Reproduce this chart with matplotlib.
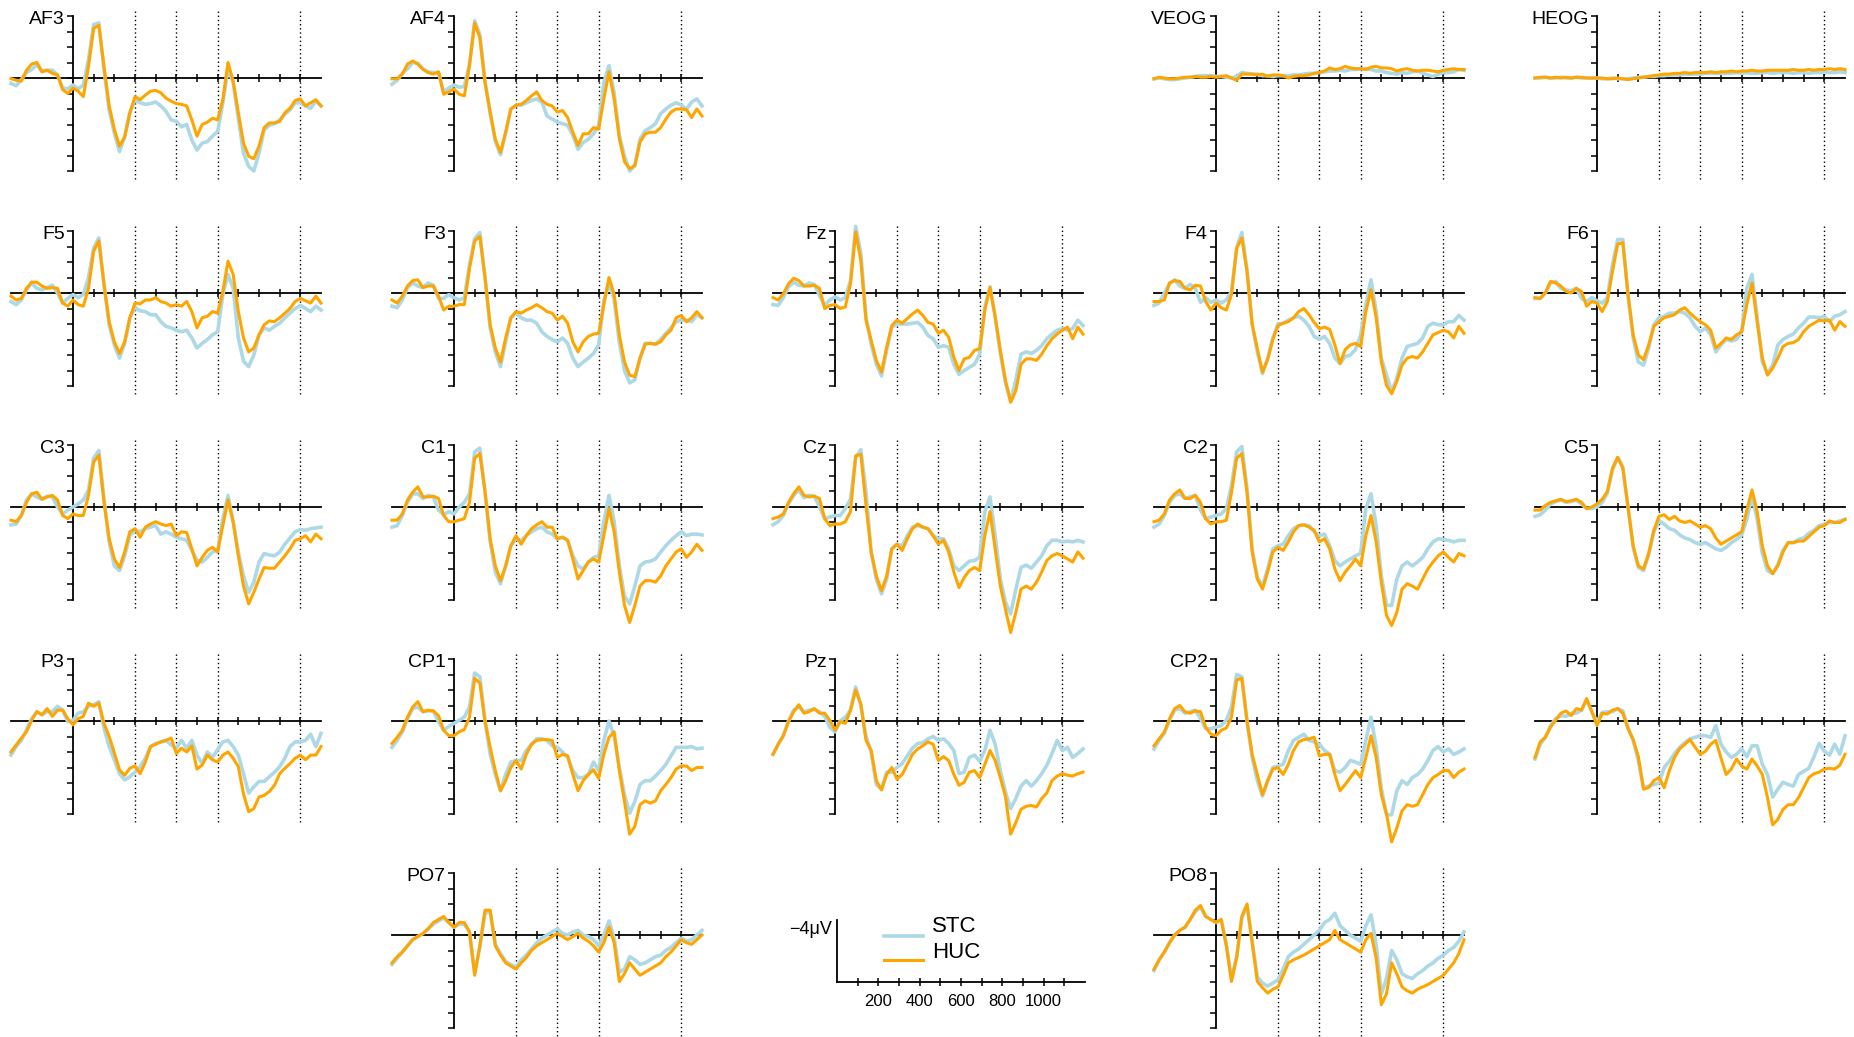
import numpy as np
import matplotlib
matplotlib.use("Agg")
import matplotlib.pyplot as plt
from matplotlib.lines import Line2D

plt.rcParams['font.family'] = ['Liberation Sans', 'DejaVu Sans']

# time axis in ms, one sample every 25 ms
times = np.arange(-300, 1201, 25)

# values in microvolts (negative plotted up)
af3_stc = [0.35, 0.5, 0.1, -0.35, -0.55, -0.85, -0.45, -0.5, -0.5, -0.2, 0.65, 0.7,
           0.45, 0.7, 0.45, -1.2, -3.45, -3.55, -0.55, 2.05, 3.55, 4.75, 3.8, 2.25,
           1.4, 1.6, 1.7, 1.65, 1.55, 1.8, 2.15, 2.7, 2.8, 3.15, 3.0, 4.0,
           4.65, 4.2, 4.1, 3.75, 3.45, 1.6, -0.6, 0.3, 2.6, 4.85, 5.7, 6.0,
           4.85, 3.35, 3.05, 2.95, 2.7, 2.35, 2.05, 1.6, 1.6, 1.8, 1.95, 1.5, 1.8]
af3_huc = [0.04, 0.15, 0.2, -0.5, -0.9, -1.0, -0.4, -0.5, -0.3, -0.2, 0.75, 1.0,
           0.65, 0.85, 1.2, -0.75, -3.2, -3.4, -0.75, 1.8, 3.3, 4.4, 3.8, 2.25,
           1.2, 1.4, 1.1, 0.85, 0.8, 0.95, 1.3, 1.5, 1.65, 1.7, 1.8, 2.7,
           3.75, 3.0, 2.85, 2.6, 2.7, 1.4, -1.0, 0.2, 2.25, 4.2, 5.05, 5.2,
           4.4, 3.2, 2.9, 2.9, 2.8, 2.25, 1.95, 1.45, 1.35, 1.8, 1.6, 1.4, 1.8]

af4_stc = [0.4, 0.15, -0.3, -0.6, -1.0, -0.95, -0.6, -0.4, -0.35, -0.35, 0.9, 0.65,
           0.45, 0.6, 0.55, -0.9, -3.7, -2.8, 0.2, 2.3, 4.1, 4.95, 3.55, 2.0,
           1.75, 1.75, 1.6, 1.45, 1.35, 1.55, 2.45, 2.65, 2.85, 2.95, 3.05, 3.7,
           4.6, 4.15, 3.95, 3.6, 3.05, 0.3, -0.8, 1.0, 3.7, 5.05, 6.0, 5.65,
           3.95, 3.4, 3.2, 2.95, 2.3, 2.0, 1.75, 1.6, 1.75, 2.0, 1.55, 1.35, 1.8]
af4_huc = [0.05, 0.05, -0.25, -0.9, -1.1, -0.9, -0.55, -0.35, -0.25, -0.4, 1.05, 0.9,
           0.7, 1.05, 1.15, -0.8, -3.55, -2.6, 0.3, 2.2, 3.95, 4.8, 3.5, 2.0,
           1.75, 1.7, 1.45, 1.15, 0.9, 1.45, 1.7, 1.8, 2.2, 2.1, 2.55, 3.5,
           4.35, 3.6, 3.6, 3.2, 3.3, 1.35, -0.4, 1.35, 3.9, 5.4, 5.85, 5.65,
           4.15, 3.6, 3.5, 3.5, 3.2, 2.65, 2.2, 2.0, 2.0, 2.05, 2.55, 2.0, 2.45]

veog_stc = [0.05, 0.0, 0.05, 0.1, 0.1, 0.05, 0.0, -0.05, -0.1, -0.15, -0.15, -0.15,
            -0.1, -0.1, -0.05, 0.0, -0.1, -0.35, -0.3, -0.25, -0.25, -0.15, -0.15, -0.1,
            -0.15, -0.15, -0.15, -0.2, -0.2, -0.25, -0.3, -0.3, -0.35, -0.4, -0.45, -0.45,
            -0.5, -0.45, -0.55, -0.55, -0.6, -0.6, -0.55, -0.45, -0.45, -0.35, -0.3, -0.25,
            -0.35, -0.3, -0.4, -0.45, -0.3, -0.2, -0.1, -0.25, -0.35, -0.35, -0.4, -0.55, -0.5]
veog_huc = [0.05, -0.05, 0.0, 0.05, 0.05, 0.0, -0.05, -0.05, -0.1, -0.05, -0.05, -0.1,
            -0.05, -0.1, -0.15, 0.0, 0.15, -0.25, -0.25, -0.25, -0.2, -0.25, -0.1, -0.2,
            -0.2, -0.15, 0.0, -0.1, -0.15, -0.15, -0.2, -0.3, -0.35, -0.45, -0.65, -0.55,
            -0.6, -0.75, -0.65, -0.6, -0.6, -0.55, -0.7, -0.75, -0.65, -0.65, -0.6, -0.45,
            -0.55, -0.6, -0.5, -0.45, -0.5, -0.5, -0.45, -0.4, -0.5, -0.55, -0.6, -0.55, -0.55]

heog_stc = [0.0, 0.0, -0.05, 0.0, 0.0, -0.05, 0.0, 0.0, -0.05, 0.0, 0.0, 0.0,
            0.0, 0.05, 0.05, 0.0, 0.05, 0.05, 0.05, 0.0, -0.05, -0.05, -0.1, -0.1,
            -0.15, -0.15, -0.2, -0.2, -0.2, -0.25, -0.25, -0.25, -0.25, -0.3, -0.3, -0.3,
            -0.3, -0.3, -0.3, -0.35, -0.3, -0.35, -0.3, -0.3, -0.35, -0.35, -0.3, -0.35,
            -0.35, -0.35, -0.3, -0.35, -0.35, -0.3, -0.35, -0.35, -0.4, -0.35, -0.35, -0.4, -0.35]
heog_huc = [0.0, -0.05, -0.05, 0.0, -0.05, 0.0, -0.05, 0.0, -0.05, -0.05, 0.0, 0.0,
            0.0, 0.0, 0.05, 0.05, 0.0, 0.05, 0.1, 0.05, 0.0, -0.05, -0.1, -0.15,
            -0.2, -0.25, -0.25, -0.3, -0.3, -0.35, -0.3, -0.35, -0.35, -0.35, -0.4, -0.35,
            -0.4, -0.4, -0.45, -0.4, -0.45, -0.45, -0.5, -0.45, -0.45, -0.5, -0.5, -0.5,
            -0.5, -0.5, -0.55, -0.5, -0.5, -0.55, -0.5, -0.55, -0.55, -0.6, -0.55, -0.6, -0.55]

f5_stc = [0.55, 0.75, 0.45, -0.2, -0.65, -0.3, -0.2, -0.35, -0.5, 0.0, 0.65, 0.35,
          0.1, 0.3, 0.1, -1.0, -2.9, -3.55, -0.55, 2.05, 3.35, 4.2, 3.25, 1.6,
          0.95, 1.15, 1.2, 1.4, 1.4, 1.85, 2.15, 2.25, 2.4, 2.5, 2.4, 2.9,
          3.55, 3.25, 3.0, 2.7, 2.5, 0.1, -1.2, -0.3, 2.9, 4.4, 4.75, 4.0,
          2.7, 2.25, 2.4, 2.15, 1.95, 1.6, 1.3, 1.0, 0.8, 1.0, 1.2, 0.85, 1.1]
f5_huc = [0.2, 0.45, 0.35, -0.3, -0.7, -0.7, -0.45, -0.3, -0.35, -0.3, 0.65, 0.85,
          0.45, 0.75, 0.85, -0.3, -2.7, -3.35, -0.55, 1.85, 3.15, 3.9, 3.15, 1.6,
          0.65, 0.7, 0.45, 0.45, 0.3, 0.55, 0.65, 0.85, 0.75, 0.85, 0.55, 1.2,
          2.25, 1.6, 1.5, 1.2, 1.3, -0.1, -2.05, -1.2, 1.2, 2.9, 3.8, 3.55,
          2.7, 2.05, 1.8, 1.85, 1.6, 1.3, 1.0, 0.55, 0.35, 0.5, 0.65, 0.2, 0.65]

f3_stc = [0.85, 0.95, 0.45, -0.35, -0.65, -0.45, -0.35, -0.65, -0.5, 0.35, 0.35, 0.1,
          0.3, 0.45, 0.3, -1.8, -3.5, -3.9, -1.0, 2.25, 3.8, 4.75, 3.15, 1.6,
          1.3, 1.6, 1.75, 1.75, 1.95, 2.5, 2.8, 3.0, 3.15, 2.9, 3.25, 4.2,
          4.75, 4.45, 4.2, 3.9, 3.35, 0.5, -0.6, 0.4, 3.2, 5.0, 5.8, 5.6,
          4.2, 3.25, 3.25, 3.3, 3.0, 2.6, 2.25, 1.85, 1.75, 1.75, 1.85, 1.4, 1.6]
f3_huc = [0.45, 0.65, 0.2, -0.45, -0.8, -0.85, -0.35, -0.45, -0.45, 0.2, 1.1, 0.85,
          0.85, 0.75, 0.75, -1.6, -3.35, -3.65, -1.0, 2.05, 3.55, 4.45, 2.9, 1.6,
          1.2, 1.3, 1.1, 0.95, 0.75, 0.95, 1.2, 1.3, 1.75, 1.5, 1.95, 3.15,
          3.8, 3.15, 2.8, 2.65, 2.6, 0.75, -1.0, 0.1, 2.7, 4.45, 5.3, 5.4,
          4.2, 3.3, 3.25, 3.3, 3.15, 2.7, 2.4, 1.6, 1.45, 1.85, 1.6, 1.2, 1.6]

fz_stc = [0.75, 0.8, 0.3, -0.4, -0.7, -0.5, -0.45, -0.65, -0.55, 0.15, 0.8, 0.45,
          0.25, 0.45, 0.3, -0.8, -4.3, -2.55, 1.55, 3.3, 4.6, 5.35, 3.7, 2.2,
          2.0, 2.0, 2.0, 1.95, 1.9, 2.2, 2.75, 2.95, 3.5, 3.4, 3.5, 4.6,
          5.25, 5.0, 4.8, 4.6, 3.95, 0.9, -0.4, 1.5, 3.9, 5.8, 6.95, 5.6,
          3.95, 3.8, 3.9, 3.7, 3.4, 2.95, 2.65, 2.4, 2.3, 2.4, 2.3, 1.75, 2.1]
fz_huc = [0.3, 0.45, 0.05, -0.6, -0.95, -0.8, -0.45, -0.45, -0.5, -0.3, 1.0, 0.8,
          0.75, 1.0, 0.9, -0.6, -3.95, -2.1, 1.75, 3.05, 4.35, 5.1, 3.5, 2.1,
          1.75, 1.95, 1.65, 1.35, 1.1, 1.45, 1.9, 2.0, 2.6, 2.4, 2.85, 4.15,
          5.0, 4.25, 4.15, 3.7, 3.6, 1.1, -0.35, 1.55, 3.7, 5.65, 7.05, 6.3,
          4.6, 4.25, 4.25, 4.35, 3.95, 3.4, 2.95, 2.65, 2.4, 2.2, 2.95, 2.2, 2.65]

f4_stc = [0.8, 0.65, 0.0, -0.6, -0.85, -0.45, -0.3, -0.55, -0.3, 0.6, 0.3, 0.6,
          0.45, 0.65, 0.45, -0.1, -2.9, -3.9, -1.5, 2.05, 3.8, 5.2, 4.2, 2.9,
          2.0, 1.95, 1.75, 1.6, 1.5, 1.75, 2.15, 2.8, 3.0, 2.8, 3.25, 4.2,
          4.55, 4.1, 4.0, 3.65, 2.7, 0.75, -0.85, 1.2, 4.2, 5.3, 6.35, 5.5,
          4.2, 3.45, 3.35, 3.25, 2.9, 2.15, 1.95, 2.05, 2.05, 1.85, 1.85, 1.45, 1.75]
f4_huc = [0.55, 0.55, 0.45, -0.65, -0.8, -0.75, -0.3, -0.2, -0.5, -0.45, 0.55, 1.1,
          0.65, 0.95, 1.1, 0.1, -2.9, -3.55, -1.4, 2.0, 3.6, 5.1, 4.3, 3.0,
          2.1, 1.95, 1.85, 1.6, 1.2, 1.0, 1.4, 1.9, 2.3, 2.2, 2.35, 3.35,
          4.55, 3.65, 3.35, 3.25, 3.45, 1.2, -0.2, 1.6, 4.45, 5.95, 6.5, 5.7,
          4.65, 4.2, 4.1, 4.2, 3.8, 3.25, 2.7, 2.55, 2.4, 2.5, 2.9, 2.15, 2.6]

f6_stc = [0.35, 0.35, 0.0, -0.65, -0.75, -0.3, -0.2, -0.15, -0.3, 0.35, 0.55, 0.3,
          0.5, 0.65, 0.3, -1.85, -3.45, -3.45, 0.1, 2.9, 4.45, 4.65, 3.55, 2.05,
          1.6, 1.5, 1.3, 1.3, 1.2, 1.3, 1.6, 2.15, 2.5, 2.25, 2.7, 3.8,
          3.35, 3.0, 3.1, 3.0, 2.5, -0.3, -1.2, 1.6, 4.45, 5.2, 4.65, 3.35,
          3.0, 2.8, 2.65, 2.25, 1.95, 1.55, 1.55, 1.6, 1.5, 1.85, 1.5, 1.4, 1.2]
f6_huc = [0.3, 0.35, 0.0, -0.75, -0.65, -0.45, -0.1, 0.0, -0.3, -0.1, 0.85, 0.55,
          0.65, 1.2, 0.55, -1.4, -3.15, -3.25, 0.1, 2.7, 4.0, 4.3, 3.35, 2.15,
          1.85, 1.6, 1.5, 1.4, 1.1, 0.95, 1.3, 1.6, 1.85, 2.05, 2.4, 3.55,
          3.25, 2.9, 3.0, 2.7, 2.5, 0.75, -0.65, 1.85, 4.2, 5.3, 4.85, 4.2,
          3.45, 3.25, 3.2, 3.0, 2.5, 2.15, 1.95, 1.75, 1.8, 1.75, 2.4, 1.85, 2.15]

c3_stc = [1.15, 1.1, 0.55, -0.45, -0.85, -0.65, -0.5, -0.7, -0.65, 0.0, 0.45, 0.2,
          0.0, -0.2, -0.45, -1.1, -3.15, -3.65, -0.55, 2.25, 3.8, 4.1, 3.15, 1.85,
          1.5, 1.6, 1.4, 1.3, 1.2, 1.75, 1.6, 1.75, 1.95, 2.05, 2.15, 2.8,
          3.45, 3.55, 3.25, 2.9, 2.8, 0.75, -0.75, 0.95, 2.9, 4.45, 5.5, 4.85,
          3.55, 3.0, 3.1, 3.15, 2.9, 2.4, 2.0, 1.6, 1.45, 1.5, 1.4, 1.35, 1.3]
c3_huc = [0.85, 0.95, 0.55, -0.3, -0.85, -0.95, -0.5, -0.65, -0.75, -0.45, 0.55, 0.75,
          0.45, 0.55, 0.55, -0.75, -2.9, -3.35, -0.3, 2.05, 3.35, 3.9, 2.9, 1.6,
          1.4, 1.95, 1.3, 1.1, 0.95, 1.1, 1.2, 1.1, 1.85, 1.6, 1.65, 2.7,
          3.8, 3.25, 2.8, 2.6, 2.9, 1.2, -0.45, 0.95, 3.15, 5.1, 6.25, 5.5,
          4.65, 3.9, 3.95, 3.95, 3.55, 3.15, 2.7, 2.15, 2.05, 1.85, 2.25, 1.75, 2.05]

c1_stc = [1.3, 1.2, 0.55, -0.3, -0.85, -0.85, -0.55, -0.75, -0.65, 0.2, 0.5, 0.3,
          0.45, 0.0, -0.3, -0.85, -3.55, -3.8, -1.0, 2.25, 4.2, 4.95, 3.8, 2.5,
          2.05, 2.15, 1.85, 1.6, 1.4, 1.3, 1.6, 1.75, 2.05, 1.95, 2.15, 3.15,
          3.8, 4.0, 3.55, 3.25, 3.15, 0.95, -0.75, 0.95, 3.8, 5.75, 6.25, 5.1,
          3.8, 3.55, 3.5, 3.35, 2.9, 2.5, 2.15, 1.85, 1.6, 1.85, 1.75, 1.75, 1.8]
c1_huc = [0.85, 0.85, 0.45, -0.45, -0.95, -1.3, -0.65, -0.65, -0.7, -0.55, 0.55, 0.95,
          0.95, 0.85, 0.75, -0.3, -3.15, -3.45, -1.0, 2.05, 3.8, 4.75, 3.8, 2.5,
          1.85, 2.4, 1.85, 1.4, 1.15, 0.95, 1.3, 1.3, 2.05, 1.95, 2.15, 3.35,
          4.65, 4.1, 3.55, 3.35, 3.55, 1.85, 0.1, 1.6, 4.2, 6.35, 7.45, 6.35,
          5.1, 4.75, 4.75, 4.85, 4.45, 3.8, 3.35, 2.9, 2.7, 3.25, 2.9, 2.4, 2.8]

cz_stc = [1.15, 0.95, 0.55, -0.2, -0.75, -1.1, -0.6, -0.75, -0.7, 0.0, 0.75, 0.65,
          0.55, 0.55, 0.1, -0.5, -3.2, -3.7, -0.95, 2.9, 4.65, 5.6, 4.65, 2.7,
          2.4, 2.5, 1.85, 1.3, 1.2, 1.3, 1.4, 1.85, 2.05, 2.05, 2.7, 3.8,
          4.1, 3.8, 3.5, 3.45, 3.25, 0.3, -0.65, 1.85, 4.65, 6.15, 6.9, 5.3,
          3.9, 3.75, 3.95, 3.55, 3.15, 2.5, 2.15, 2.15, 2.25, 2.2, 2.25, 2.15, 2.25]
cz_huc = [0.75, 0.65, 0.45, -0.3, -0.85, -1.3, -0.75, -0.65, -0.7, -0.55, 0.75, 1.2,
          1.1, 1.1, 0.95, 0.3, -3.3, -3.4, -0.1, 2.9, 4.45, 5.4, 4.45, 2.7,
          2.4, 2.8, 2.05, 1.4, 1.1, 1.3, 1.4, 1.85, 2.4, 2.15, 2.9, 4.2,
          5.2, 4.55, 4.1, 3.9, 4.1, 1.85, 0.3, 2.7, 5.1, 6.6, 8.1, 6.8,
          5.3, 5.1, 5.3, 4.85, 4.2, 3.45, 3.15, 3.0, 3.15, 3.35, 3.55, 2.9, 3.3]

c2_stc = [1.3, 1.1, 0.55, -0.3, -0.75, -0.85, -0.55, -0.65, -0.75, 0.2, 0.75, 0.65,
          0.55, 0.45, 0.1, -1.4, -3.55, -3.9, -1.2, 2.7, 4.55, 5.1, 4.0, 2.7,
          2.5, 2.4, 1.85, 1.4, 1.2, 1.15, 1.2, 1.6, 1.85, 1.75, 2.5, 3.45,
          3.8, 3.55, 3.35, 3.15, 3.0, 0.1, -0.85, 1.2, 4.45, 6.35, 6.35, 4.65,
          3.8, 3.55, 3.8, 3.55, 3.25, 2.7, 2.25, 2.05, 2.1, 2.15, 2.25, 2.15, 2.15]
c2_huc = [0.95, 0.85, 0.45, -0.45, -0.85, -1.1, -0.55, -0.55, -0.75, -0.3, 0.75, 1.1,
          0.95, 0.95, 0.85, -0.95, -3.15, -3.45, -0.95, 2.9, 4.65, 5.3, 4.2, 2.9,
          2.6, 2.8, 2.25, 1.6, 1.2, 1.15, 1.3, 1.5, 2.25, 2.05, 2.7, 4.0,
          4.75, 4.2, 3.8, 3.35, 3.8, 1.85, 0.55, 2.25, 4.85, 7.0, 7.65, 6.8,
          5.3, 4.95, 5.1, 5.3, 4.65, 4.0, 3.55, 3.15, 2.9, 3.25, 3.55, 3.0, 3.15]

c5_stc = [0.6, 0.5, 0.2, -0.2, -0.35, -0.45, -0.3, -0.35, -0.45, -0.2, 0.1, 0.1,
          0.0, -0.3, -0.9, -2.4, -3.2, -2.6, 0.0, 2.6, 3.9, 4.1, 3.1, 1.6,
          0.9, 1.1, 1.4, 1.5, 1.8, 2.0, 2.1, 2.3, 2.4, 2.3, 2.5, 2.7,
          2.8, 2.6, 2.3, 2.1, 1.8, 0.8, -0.7, 0.8, 3.0, 4.1, 4.3, 3.7,
          2.8, 2.3, 2.3, 2.1, 2.0, 1.7, 1.5, 1.2, 1.1, 1.0, 1.0, 0.9, 0.8]
c5_huc = [0.2, 0.2, -0.1, -0.3, -0.4, -0.5, -0.35, -0.4, -0.5, -0.3, 0.1, 0.0,
          -0.2, -0.5, -1.0, -2.5, -3.2, -2.5, 0.0, 2.5, 3.8, 4.0, 3.0, 1.5,
          0.6, 0.5, 0.8, 0.6, 0.9, 1.0, 0.9, 1.1, 1.3, 1.2, 1.4, 2.0,
          2.4, 2.2, 2.0, 1.8, 1.6, 0.2, -1.1, 0.3, 2.5, 3.8, 4.3, 3.8,
          2.9, 2.3, 2.3, 2.2, 2.2, 1.9, 1.6, 1.3, 1.2, 0.9, 1.0, 1.0, 0.8]

p3_stc = [2.2, 1.65, 1.25, 0.55, -0.15, -0.6, -0.4, -0.6, -0.6, -0.95, -0.7, 0.05,
          -0.05, -0.5, -0.6, -0.95, -1.05, -1.25, 0.45, 1.65, 2.5, 3.4, 3.8, 3.6,
          3.3, 2.95, 2.4, 1.65, 1.45, 1.35, 1.25, 1.55, 1.75, 1.25, 1.75, 1.25,
          2.2, 2.75, 2.0, 2.35, 1.85, 1.35, 1.25, 1.65, 2.2, 3.4, 4.65, 4.25,
          3.9, 3.9, 3.6, 3.3, 2.95, 2.4, 1.65, 1.35, 1.35, 1.25, 0.85, 1.65, 0.8]
p3_huc = [2.0, 1.55, 1.1, 0.7, -0.05, -0.6, -0.4, -0.8, -0.3, -0.7, -0.7, -0.15,
          0.25, -0.15, -0.3, -1.15, -0.95, -1.15, 0.15, 1.0, 2.05, 3.15, 3.5, 3.05,
          2.9, 3.4, 2.65, 1.65, 1.5, 1.35, 1.25, 1.1, 2.1, 1.75, 2.0, 1.6,
          3.1, 2.85, 2.2, 2.5, 2.65, 2.2, 2.0, 2.4, 2.95, 4.7, 5.85, 5.65,
          4.9, 4.8, 4.55, 4.15, 3.4, 3.05, 2.75, 2.4, 2.2, 2.5, 2.2, 2.2, 1.65]

cp1_stc = [1.7, 1.25, 0.7, -0.15, -0.8, -0.9, -0.6, -0.65, -0.65, 0.05, 0.6, 0.35,
           0.15, -0.05, -0.25, -0.9, -3.1, -2.85, 0.0, 2.15, 3.45, 4.5, 3.45, 2.65,
           2.55, 2.55, 1.9, 1.5, 1.15, 1.15, 1.25, 1.6, 1.7, 2.0, 2.35, 3.2,
           3.65, 3.65, 3.45, 2.65, 3.2, 1.25, 0.0, 1.0, 3.0, 4.75, 5.95, 5.2,
           4.1, 3.85, 3.85, 3.55, 3.2, 2.8, 2.25, 1.7, 1.7, 1.7, 1.65, 1.8, 1.75]
cp1_huc = [1.45, 1.05, 0.6, -0.25, -0.9, -1.25, -0.6, -0.7, -0.65, -0.35, 0.6, 0.95,
           0.95, 0.7, 0.55, -0.25, -2.75, -2.45, 0.0, 1.7, 3.2, 4.5, 3.85, 3.0,
           2.55, 3.1, 2.15, 1.5, 1.25, 1.2, 1.2, 1.25, 2.35, 2.15, 2.25, 3.45,
           4.5, 3.85, 3.45, 3.15, 3.7, 2.15, 1.05, 0.7, 3.2, 5.2, 7.3, 6.8,
           5.4, 5.15, 5.3, 5.15, 4.5, 4.1, 3.65, 3.1, 2.9, 2.9, 3.2, 3.0, 3.0]

pz_stc = [2.15, 1.5, 0.95, 0.0, -0.7, -0.9, -0.6, -0.7, -0.75, -0.6, -0.3, 0.4,
          0.7, 0.0, -0.25, -0.7, -2.2, -1.0, 1.0, 2.0, 4.1, 4.4, 3.3, 3.3,
          3.0, 2.75, 2.25, 1.75, 1.45, 1.4, 1.15, 1.0, 1.25, 1.15, 1.45, 1.9,
          3.4, 3.3, 2.35, 2.2, 2.6, 1.9, 0.6, 1.5, 3.2, 4.6, 5.65, 5.0,
          4.2, 3.85, 4.2, 3.85, 3.4, 2.85, 2.1, 1.25, 1.9, 1.7, 2.35, 2.1, 1.8]
pz_huc = [2.15, 1.5, 0.95, 0.05, -0.6, -1.05, -0.5, -0.6, -0.8, -0.5, -0.5, -0.05,
          0.6, 0.05, 0.15, -0.7, -2.0, -1.1, 1.25, 1.9, 3.85, 4.45, 3.45, 3.0,
          3.75, 3.45, 2.8, 2.15, 1.8, 1.6, 1.35, 1.5, 2.55, 2.3, 2.55, 3.45,
          4.15, 3.95, 3.3, 3.2, 3.65, 2.8, 1.9, 2.55, 3.65, 4.9, 7.3, 6.55,
          5.7, 5.5, 5.45, 5.55, 5.0, 4.65, 3.85, 3.55, 3.4, 3.5, 3.55, 3.4, 3.3]

cp2_stc = [1.8, 1.25, 0.8, -0.05, -0.7, -0.8, -0.5, -0.6, -0.7, -0.15, 0.5, 0.5,
           0.4, 0.3, -0.05, -0.9, -3.0, -2.85, 0.0, 2.35, 3.85, 4.85, 3.85, 3.0,
           2.9, 2.8, 1.9, 1.25, 1.05, 0.85, 1.25, 1.35, 1.5, 1.9, 2.15, 3.2,
           3.3, 3.0, 2.55, 2.65, 2.8, 1.25, -0.25, 1.7, 4.35, 6.05, 6.05, 4.5,
           3.85, 4.1, 3.65, 3.45, 3.1, 2.55, 1.9, 1.65, 2.0, 1.8, 2.15, 2.0, 1.8]
cp2_huc = [1.6, 1.15, 0.7, -0.15, -0.8, -1.0, -0.6, -0.5, -0.65, -0.6, 0.4, 0.85,
           0.95, 0.6, 0.45, -0.25, -2.65, -2.75, 0.0, 2.15, 3.45, 4.75, 3.85, 3.1,
           3.0, 3.45, 2.8, 1.9, 1.35, 1.2, 1.15, 1.05, 2.25, 2.15, 2.15, 3.45,
           4.5, 4.1, 3.65, 3.2, 3.65, 2.35, 0.95, 2.35, 4.75, 6.0, 7.8, 6.9,
           5.8, 5.4, 5.5, 5.4, 4.75, 4.1, 3.65, 3.45, 3.2, 3.2, 3.65, 3.3, 3.1]

p4_stc = [2.45, 1.5, 1.05, 0.3, -0.15, -0.35, -0.3, -0.5, -0.5, -0.7, -1.35, -0.6,
          0.05, -0.55, -0.6, -0.6, -0.8, -0.65, 0.4, 1.25, 2.55, 4.3, 4.2, 4.1,
          4.0, 3.0, 2.6, 2.1, 1.7, 1.4, 1.15, 1.05, 0.95, 0.95, 1.05, 0.3,
          1.5, 2.0, 2.35, 2.15, 1.8, 2.3, 1.6, 1.6, 2.8, 3.45, 4.9, 4.4,
          3.95, 4.1, 4.2, 3.45, 3.25, 3.05, 2.3, 1.45, 1.95, 2.2, 1.5, 2.15, 0.95]
p4_huc = [2.35, 1.35, 1.05, 0.4, -0.05, -0.5, -0.65, -0.35, -0.8, -0.7, -1.45, -0.6,
          0.3, -0.5, -0.45, -0.7, -0.8, -0.5, 0.5, 1.2, 2.3, 4.4, 4.3, 3.85,
          3.65, 4.3, 3.2, 2.35, 1.8, 1.5, 1.2, 1.7, 2.15, 1.95, 1.5, 1.25,
          2.4, 3.45, 3.1, 2.45, 2.9, 3.1, 2.45, 2.9, 3.45, 4.95, 6.7, 6.35,
          5.7, 5.4, 5.4, 4.95, 4.3, 3.65, 3.4, 3.3, 3.1, 3.05, 3.1, 2.85, 2.15]

po7_stc = [1.9, 1.5, 1.1, 0.7, 0.3, 0.1, -0.1, -0.4, -0.7, -0.9, -1.1, -0.8,
           -0.5, -0.7, -0.7, -0.2, 2.4, 0.8, -1.4, -1.5, 0.6, 1.2, 1.7, 1.9,
           2.1, 1.6, 1.3, 0.9, 0.5, 0.2, 0.0, -0.2, -0.4, -0.1, 0.0, -0.2,
           -0.3, 0.0, 0.1, 0.3, 0.7, 0.0, -0.9, 0.2, 2.4, 2.2, 1.4, 1.6,
           1.9, 1.8, 1.6, 1.4, 1.3, 1.0, 0.8, 0.5, 0.2, 0.4, 0.3, 0.0, -0.3]
po7_huc = [1.8, 1.4, 1.1, 0.7, 0.3, 0.1, -0.1, -0.4, -0.8, -1.0, -1.2, -0.8,
           -0.5, -0.8, -0.8, -0.2, 2.6, 0.7, -1.6, -1.6, 0.7, 1.3, 1.8, 2.0,
           2.2, 1.8, 1.45, 1.0, 0.7, 0.5, 0.3, 0.1, -0.1, 0.1, 0.3, 0.1,
           -0.1, 0.2, 0.4, 0.7, 1.1, 0.5, -0.5, 0.5, 3.0, 2.5, 1.8, 2.2,
           2.6, 2.4, 2.2, 2.0, 1.8, 1.4, 1.1, 0.7, 0.3, 0.5, 0.6, 0.3, 0.0]

po8_stc = [2.3, 1.6, 1.1, 0.5, 0.0, -0.3, -0.5, -1.0, -1.5, -1.8, -1.2, -1.0,
           -0.8, -1.0, 0.6, 2.8, 1.4, -1.1, -1.9, 0.4, 2.7, 3.1, 3.3, 3.1,
           2.9, 2.2, 1.4, 1.1, 0.9, 0.6, 0.3, 0.0, -0.3, -0.8, -1.0, -1.4,
           -0.6, -0.3, 0.0, 0.2, 0.4, -0.6, -1.3, 0.6, 3.8, 2.8, 1.0, 1.6,
           2.5, 2.7, 2.8, 2.5, 2.3, 2.0, 1.8, 1.5, 1.3, 1.0, 0.8, 0.4, -0.2]
po8_huc = [2.2, 1.6, 1.1, 0.5, 0.0, -0.3, -0.5, -1.0, -1.6, -1.9, -1.2, -1.0,
           -0.8, -1.0, 0.7, 3.0, 1.45, -1.2, -2.0, 0.5, 3.0, 3.4, 3.75, 3.5,
           3.35, 2.6, 1.8, 1.6, 1.45, 1.3, 1.1, 0.9, 0.7, 0.5, 0.3, -0.3,
           0.3, 0.5, 0.7, 0.9, 1.1, 0.3, -0.1, 1.5, 4.5, 3.8, 1.8, 2.5,
           3.35, 3.6, 3.75, 3.5, 3.35, 3.2, 3.0, 2.8, 2.6, 2.2, 1.8, 1.2, 0.3]

# (label, column, row, STC, HUC)
panels = [
    ("AF3", 0, 0, af3_stc, af3_huc), ("AF4", 1, 0, af4_stc, af4_huc),
    ("VEOG", 3, 0, veog_stc, veog_huc), ("HEOG", 4, 0, heog_stc, heog_huc),
    ("F5", 0, 1, f5_stc, f5_huc), ("F3", 1, 1, f3_stc, f3_huc),
    ("Fz", 2, 1, fz_stc, fz_huc), ("F4", 3, 1, f4_stc, f4_huc),
    ("F6", 4, 1, f6_stc, f6_huc),
    ("C3", 0, 2, c3_stc, c3_huc), ("C1", 1, 2, c1_stc, c1_huc),
    ("Cz", 2, 2, cz_stc, cz_huc), ("C2", 3, 2, c2_stc, c2_huc),
    ("C5", 4, 2, c5_stc, c5_huc),
    ("P3", 0, 3, p3_stc, p3_huc), ("CP1", 1, 3, cp1_stc, cp1_huc),
    ("Pz", 2, 3, pz_stc, pz_huc), ("CP2", 3, 3, cp2_stc, cp2_huc),
    ("P4", 4, 3, p4_stc, p4_huc),
    ("PO7", 1, 4, po7_stc, po7_huc), ("PO8", 3, 4, po8_stc, po8_huc),
]

stc_color = '#add8e6'
huc_color = '#ffa500'
markers = [300, 500, 700, 1100]

W, H = 1854, 1037
fig = plt.figure(figsize=(W / 100, H / 100), dpi=100)

col_x = [73, 454, 835, 1216, 1597]   # pixel x of the 0 ms axis
row_y = [78, 293, 507, 721, 935]     # pixel y of the 0 uV axis
px_ms = 310 / 1500
px_uv = 15.5


def make_axes(xpix, ypix, x0, x1, y_top, y_bot):
    left = xpix + x0 * px_ms
    top = ypix + y_top * px_uv
    w = (x1 - x0) * px_ms
    h = (y_bot - y_top) * px_uv
    ax = fig.add_axes([left / W, 1 - (top + h) / H, w / W, h / H])
    ax.set_xlim(x0, x1)
    ax.set_ylim(y_bot, y_top)
    ax.patch.set_alpha(0)
    for s in ['top', 'right']:
        ax.spines[s].set_visible(False)
    ax.spines['left'].set_position(('data', 0))
    ax.spines['bottom'].set_position(('data', 0))
    for s in ['left', 'bottom']:
        ax.spines[s].set_linewidth(1.3)
    ax.set_xticks(np.arange(100, 1101, 100))
    ax.tick_params(axis='x', direction='inout', length=6, width=1.1)
    return ax


for name, c, r, stc, huc in panels:
    ax = make_axes(col_x[c], row_y[r], -300, 1200, -4, 6)
    ax.set_yticks(np.arange(-4, 7, 1))
    ax.tick_params(axis='y', direction='out', length=4, width=1.1)
    ax.tick_params(labelbottom=False, labelleft=False)
    ax.vlines(markers, -4.3, 6.5, colors='black', linestyles=(0, (1, 2)),
              linewidth=1.0, clip_on=False, zorder=1)
    ax.plot(times, stc, color=stc_color, lw=2.6, clip_on=False, zorder=3,
            solid_joinstyle='round')
    ax.plot(times, huc, color=huc_color, lw=2.2, clip_on=False, zorder=4,
            solid_joinstyle='round')
    ax.text(-40, -3.75, name, ha='right', va='center', fontsize=14)

# scale / legend panel
lax = make_axes(837, 982, 0, 1200, -4, 0)
lax.set_yticks([])
lax.set_xticklabels(['', '200', '', '400', '', '600', '', '800', '', '1000', ''])
lax.tick_params(axis='x', labelsize=12, pad=6)
lax.text(-25, -3.4, '\u22124\u03bcV', ha='right', va='center', fontsize=13)

# legend drawn by hand so the text sits above the sample line
for label, color, lw, y_line, y_text in [('STC', stc_color, 2.6, 935.7, 927),
                                         ('HUC', huc_color, 2.2, 960, 953)]:
    fig.add_artist(Line2D([884 / W, 923 / W], [1 - y_line / H, 1 - y_line / H],
                          color=color, lw=lw))
    fig.text(932 / W, 1 - y_text / H, label, ha='left', va='center',
             fontsize=16)

fig.savefig('out.png', dpi=100, facecolor='white')
